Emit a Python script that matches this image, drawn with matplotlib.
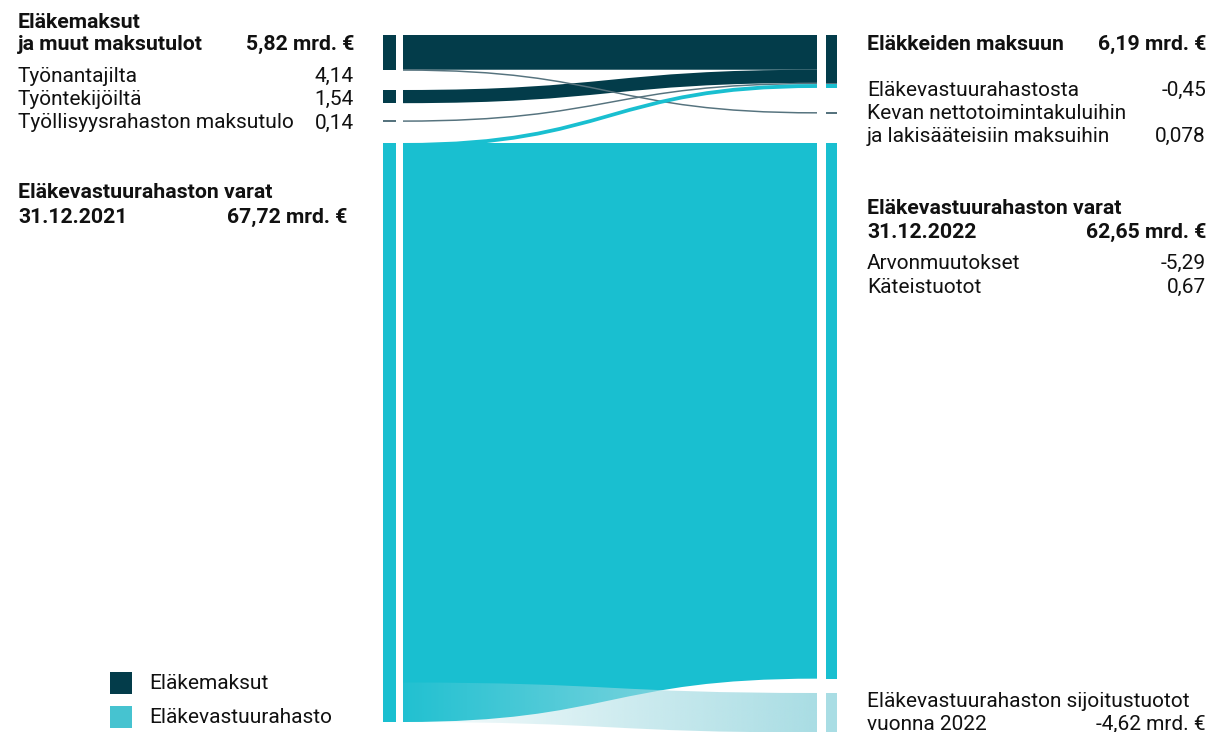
import numpy as np
import matplotlib
matplotlib.use("Agg")
import matplotlib.pyplot as plt
from matplotlib.path import Path
from matplotlib.patches import PathPatch, Rectangle
from matplotlib.colors import to_rgb

# ---------------- data (mrd. €) ----------------
left_labels = ["Työnantajilta", "Työntekijöiltä", "Työllisyysrahaston maksutulo", "Eläkevastuurahasto"]
left_values = [4.14, 1.54, 0.14, 67.72]
right_labels = ["Eläkkeiden maksuun", "Kevan nettotoimintakuluihin ja lakisääteisiin maksuihin",
                "Eläkevastuurahaston varat 31.12.2022", "Eläkevastuurahaston sijoitustuotot vuonna 2022"]
right_values = [6.19, 0.078, 62.65, 4.62]

flow_source = [0, 0, 1, 2, 3, 3, 3]
flow_target = [0, 1, 0, 0, 0, 2, 3]
flow_values = [4.062, 0.078, 1.54, 0.14, 0.45, 62.65, 4.62]
flow_kind = ["dark", "dark", "dark", "dark", "cyan", "cyan", "fade"]

contributions_total = 5.82
fund_2021 = 67.72
payments_total = 6.19
from_fund = -0.45
kevan_costs = 0.078
fund_2022 = 62.65
value_changes = -5.29
cash_returns = 0.67
investment_return = -4.62

legend_labels = ["Eläkemaksut", "Eläkevastuurahasto"]

# ---------------- style / layout ----------------
DARK = "#033c4a"
CYAN = "#19bfd0"
LIGHT = "#a9dde4"
THIN = "#56737e"
LEG_CYAN = "#46c3d0"
SCALE = 8.55            # px per mrd. €
W, H = 1225, 732
FONT = "Roboto"

left_top_px = [35, 90, 120.5, 143]
right_top_px = [35, 112.5, 143, 693]
src_mode = ["stack", "stack", "stack", "stack", "stack", "fill", "bottom"]
LBAR = (383, 396)
RBAR = (826, 837)
FX0, FX1 = 403, 817
MIN_PX = 1.5


def U(px):
    return px / SCALE


def fmt(v, d=2):
    return f"{v:.{d}f}".replace(".", ",")


fig = plt.figure(figsize=(W / 100, H / 100), dpi=100)
ax = fig.add_axes([0, 0, 1, 1])
ax.set_axis_off()

ltop = [U(p) for p in left_top_px]
rtop = [U(p) for p in right_top_px]
lbot = [t + v for t, v in zip(ltop, left_values)]


def thick(a, b):
    if (b - a) * SCALE < MIN_PX:
        m = (a + b) / 2
        return m - U(MIN_PX) / 2, m + U(MIN_PX) / 2
    return a, b


def ribbon(a0, b0, a1, b1):
    xm = (FX0 + FX1) / 2
    verts = [(FX0, a0), (xm, a0), (xm, a1), (FX1, a1), (FX1, b1),
             (xm, b1), (xm, b0), (FX0, b0), (FX0, a0)]
    codes = [Path.MOVETO, Path.CURVE4, Path.CURVE4, Path.CURVE4, Path.LINETO,
             Path.CURVE4, Path.CURVE4, Path.CURVE4, Path.CLOSEPOLY]
    return Path(verts, codes)


src_off = [0.0] * len(left_values)
tgt_off = [0.0] * len(right_values)
spans = []
for s, t, v, mode in zip(flow_source, flow_target, flow_values, src_mode):
    if mode == "stack":
        a0 = ltop[s] + src_off[s]
        b0 = a0 + v
        src_off[s] += v
    elif mode == "fill":
        a0 = ltop[s]
        b0 = lbot[s]
    else:
        b0 = lbot[s]
        a0 = b0 - v
    a1 = rtop[t] + tgt_off[t]
    b1 = a1 + v
    tgt_off[t] += v
    a0, b0 = thick(a0, b0)
    a1, b1 = thick(a1, b1)
    spans.append((a0, b0, a1, b1))

# draw ribbons
order = [5, 0, 2, 1, 3, 4, 6]
for i in order:
    a0, b0, a1, b1 = spans[i]
    kind = flow_kind[i]
    path = ribbon(a0, b0, a1, b1)
    if kind == "fade":
        patch = PathPatch(path, facecolor="none", edgecolor="none")
        ax.add_patch(patch)
        n = 300
        rgba = np.zeros((1, n, 4))
        rgba[..., :3] = to_rgb(LIGHT)
        rgba[0, :, 3] = np.linspace(0.06, 1.0, n)
        im = ax.imshow(rgba, extent=[FX0, FX1, max(b0, b1), min(a0, a1)],
                       aspect="auto", interpolation="bilinear", zorder=3)
        im.set_clip_path(patch)
    else:
        small = flow_values[i] < 0.2
        col = THIN if small else (DARK if kind == "dark" else CYAN)
        z = 2.5 if small else 2
        if kind == "cyan" and flow_values[i] < 1:
            z = 2.6
        ax.add_patch(PathPatch(path, facecolor=col, edgecolor="none", zorder=z))

# left bars
for i, (t, v) in enumerate(zip(ltop, left_values)):
    a, b = thick(t, t + v)
    col = CYAN if i == 3 else (THIN if v < 0.2 else DARK)
    ax.add_patch(Rectangle((LBAR[0], a), LBAR[1] - LBAR[0], b - a, facecolor=col, edgecolor="none"))

# right bars (segmented by incoming flows)
for i in range(len(flow_values)):
    a0, b0, a1, b1 = spans[i]
    kind = flow_kind[i]
    if kind == "fade":
        col = LIGHT
    elif flow_values[i] < 0.2:
        col = THIN
    else:
        col = DARK if kind == "dark" else CYAN
    ax.add_patch(Rectangle((RBAR[0], a1), RBAR[1] - RBAR[0], b1 - a1, facecolor=col, edgecolor="none", zorder=2))

ax.set_xlim(0, W)
ax.set_ylim(U(H), 0)

# ---------------- text ----------------
renderer = fig.canvas.get_renderer()


def fit_size(s, weight, target_px, base=14):
    t = ax.text(0, 0, s, fontsize=base, fontweight=weight, family=FONT)
    w = t.get_window_extent(renderer).width
    t.remove()
    return base * target_px / w


FS = fit_size("Työllisyysrahaston maksutulo", "normal", 277)
FB = fit_size("Eläkevastuurahaston varat", "semibold", 255)


def txt(x, ypx, s, bold=False, ha="left"):
    ax.text(x, U(ypx), s, fontsize=FB if bold else FS, fontweight="semibold" if bold else "normal",
            family=FONT, ha=ha, va="baseline", color="#111111")


LX, LV = 18, 354
RX, RV = 867, 1206

# left
txt(LX, 28, "Eläkemaksut", True)
txt(LX, 49.5, "ja muut maksutulot", True)
txt(LV, 49.5, f"{fmt(contributions_total)} mrd. €", True, "right")
for lab, val, y in zip(left_labels[:3], left_values[:3], [82, 105, 128.5]):
    txt(LX, y, lab)
    txt(LV, y, fmt(val), ha="right")
txt(LX, 198.5, "Eläkevastuurahaston varat", True)
txt(LX, 223, "31.12.2021", True)
txt(347, 223, f"{fmt(fund_2021)} mrd. €", True, "right")

# right
txt(RX, 50, "Eläkkeiden maksuun", True)
txt(RV, 50, f"{fmt(payments_total)} mrd. €", True, "right")
txt(RX, 96, "Eläkevastuurahastosta")
txt(RV, 96, fmt(from_fund), ha="right")
txt(RX, 119, "Kevan nettotoimintakuluihin")
txt(RX, 142, "ja lakisääteisiin maksuihin")
txt(RV, 142, fmt(kevan_costs, 3), ha="right")
txt(RX, 213.5, "Eläkevastuurahaston varat", True)
txt(RX, 238, "31.12.2022", True)
txt(RV, 238, f"{fmt(fund_2022)} mrd. €", True, "right")
txt(RX, 269, "Arvonmuutokset")
txt(RV, 269, fmt(value_changes), ha="right")
txt(RX, 293, "Käteistuotot")
txt(RV, 293, fmt(cash_returns), ha="right")
txt(RX, 706.5, "Eläkevastuurahaston sijoitustuotot")
txt(RX, 730, "vuonna 2022")
txt(RV, 730, f"{fmt(investment_return)} mrd. €", ha="right")

# legend
for lab, col, ytop, yb in zip(legend_labels, [DARK, LEG_CYAN], [672, 706], [688.5, 723]):
    ax.add_patch(Rectangle((110, U(ytop)), 22, U(21.5), facecolor=col, edgecolor="none"))
    txt(149, yb, lab)

fig.savefig("out.png", dpi=100)
